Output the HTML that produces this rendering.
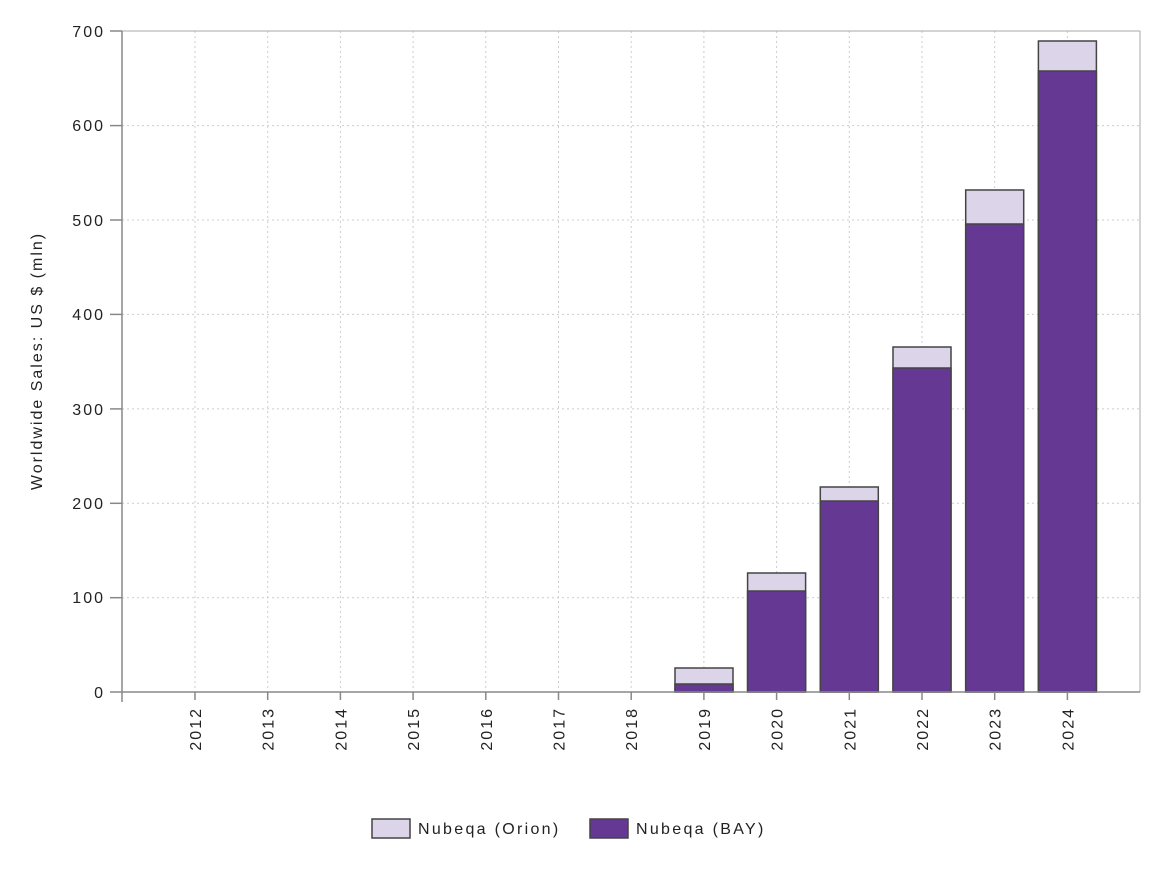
<!DOCTYPE html>
<html><head><style>body{margin:0;background:#fff}svg{display:block}text{font-family:"Liberation Sans",sans-serif;fill:#222}</style></head>
<body>
<svg width="1176" height="872" viewBox="0 0 1176 872">
<rect x="0" y="0" width="1176" height="872" fill="#fff"/>
<g stroke="#ccc" stroke-dasharray="2,3" stroke-width="1">
<line x1="122" x2="1140" y1="125.6" y2="125.6"/><line x1="122" x2="1140" y1="220" y2="220"/><line x1="122" x2="1140" y1="314.4" y2="314.4"/><line x1="122" x2="1140" y1="408.9" y2="408.9"/><line x1="122" x2="1140" y1="503.3" y2="503.3"/><line x1="122" x2="1140" y1="597.7" y2="597.7"/>
<line x1="195" x2="195" y1="31" y2="692"/><line x1="267.7" x2="267.7" y1="31" y2="692"/><line x1="340.4" x2="340.4" y1="31" y2="692"/><line x1="413.1" x2="413.1" y1="31" y2="692"/><line x1="485.8" x2="485.8" y1="31" y2="692"/><line x1="558.5" x2="558.5" y1="31" y2="692"/><line x1="631.2" x2="631.2" y1="31" y2="692"/><line x1="703.9" x2="703.9" y1="31" y2="692"/><line x1="776.6" x2="776.6" y1="31" y2="692"/><line x1="849.3" x2="849.3" y1="31" y2="692"/><line x1="922" x2="922" y1="31" y2="692"/><line x1="994.7" x2="994.7" y1="31" y2="692"/><line x1="1067.4" x2="1067.4" y1="31" y2="692"/>
</g>
<g stroke="#444" stroke-width="1.5">
<rect x="675" y="668" width="58" height="24" fill="#dcd5ea"/><rect x="675" y="684" width="58" height="8" fill="#643893"/>
<rect x="747.6" y="573" width="58" height="119" fill="#dcd5ea"/><rect x="747.6" y="591" width="58" height="101" fill="#643893"/>
<rect x="820.3" y="487" width="58" height="205" fill="#dcd5ea"/><rect x="820.3" y="501" width="58" height="191" fill="#643893"/>
<rect x="893" y="347" width="58" height="345" fill="#dcd5ea"/><rect x="893" y="368" width="58" height="324" fill="#643893"/>
<rect x="965.7" y="190" width="58" height="502" fill="#dcd5ea"/><rect x="965.7" y="224" width="58" height="468" fill="#643893"/>
<rect x="1038.4" y="41" width="58" height="651" fill="#dcd5ea"/><rect x="1038.4" y="71" width="58" height="621" fill="#643893"/>
</g>
<g stroke="#888" stroke-width="1.5" fill="none">
<line x1="122" y1="31" x2="1140" y2="31" stroke="#aaa" stroke-width="1"/>
<line x1="1140" y1="31" x2="1140" y2="692" stroke="#aaa" stroke-width="1"/>
<line x1="122" y1="31" x2="122" y2="702"/>
<line x1="110" y1="692" x2="1140" y2="692"/>
<line x1="110" y1="31" x2="122" y2="31"/><line x1="110" y1="125.6" x2="122" y2="125.6"/><line x1="110" y1="220" x2="122" y2="220"/><line x1="110" y1="314.4" x2="122" y2="314.4"/><line x1="110" y1="408.9" x2="122" y2="408.9"/><line x1="110" y1="503.3" x2="122" y2="503.3"/><line x1="110" y1="597.7" x2="122" y2="597.7"/>
<line x1="195" x2="195" y1="692" y2="700"/><line x1="267.7" x2="267.7" y1="692" y2="700"/><line x1="340.4" x2="340.4" y1="692" y2="700"/><line x1="413.1" x2="413.1" y1="692" y2="700"/><line x1="485.8" x2="485.8" y1="692" y2="700"/><line x1="558.5" x2="558.5" y1="692" y2="700"/><line x1="631.2" x2="631.2" y1="692" y2="700"/><line x1="703.9" x2="703.9" y1="692" y2="700"/><line x1="776.6" x2="776.6" y1="692" y2="700"/><line x1="849.3" x2="849.3" y1="692" y2="700"/><line x1="922" x2="922" y1="692" y2="700"/><line x1="994.7" x2="994.7" y1="692" y2="700"/><line x1="1067.4" x2="1067.4" y1="692" y2="700"/>
</g>
<g font-size="16" letter-spacing="2" text-anchor="end">
<text x="105" y="37">700</text><text x="105" y="131">600</text><text x="105" y="226">500</text><text x="105" y="320">400</text><text x="105" y="415">300</text><text x="105" y="509">200</text><text x="105" y="603">100</text><text x="105" y="698">0</text>
</g>
<g font-size="16" letter-spacing="2" text-anchor="end">
<text transform="translate(201,707) rotate(-90)">2012</text><text transform="translate(273.7,707) rotate(-90)">2013</text><text transform="translate(346.4,707) rotate(-90)">2014</text><text transform="translate(419.1,707) rotate(-90)">2015</text><text transform="translate(491.8,707) rotate(-90)">2016</text><text transform="translate(564.5,707) rotate(-90)">2017</text><text transform="translate(637.2,707) rotate(-90)">2018</text><text transform="translate(709.9,707) rotate(-90)">2019</text><text transform="translate(782.6,707) rotate(-90)">2020</text><text transform="translate(855.3,707) rotate(-90)">2021</text><text transform="translate(928,707) rotate(-90)">2022</text><text transform="translate(1000.7,707) rotate(-90)">2023</text><text transform="translate(1073.4,707) rotate(-90)">2024</text>
</g>
<text font-size="16" letter-spacing="2" text-anchor="middle" transform="translate(42,361) rotate(-90)">Worldwide Sales: US $ (mln)</text>
<rect x="372" y="819" width="38" height="19" fill="#dcd5ea" stroke="#444" stroke-width="1.5"/>
<text x="418" y="834" font-size="16" letter-spacing="2.3">Nubeqa (Orion)</text>
<rect x="590" y="819" width="38" height="19" fill="#643893" stroke="#444" stroke-width="1.5"/>
<text x="636" y="834" font-size="16" letter-spacing="2.3">Nubeqa (BAY)</text>
</svg>
</body></html>
